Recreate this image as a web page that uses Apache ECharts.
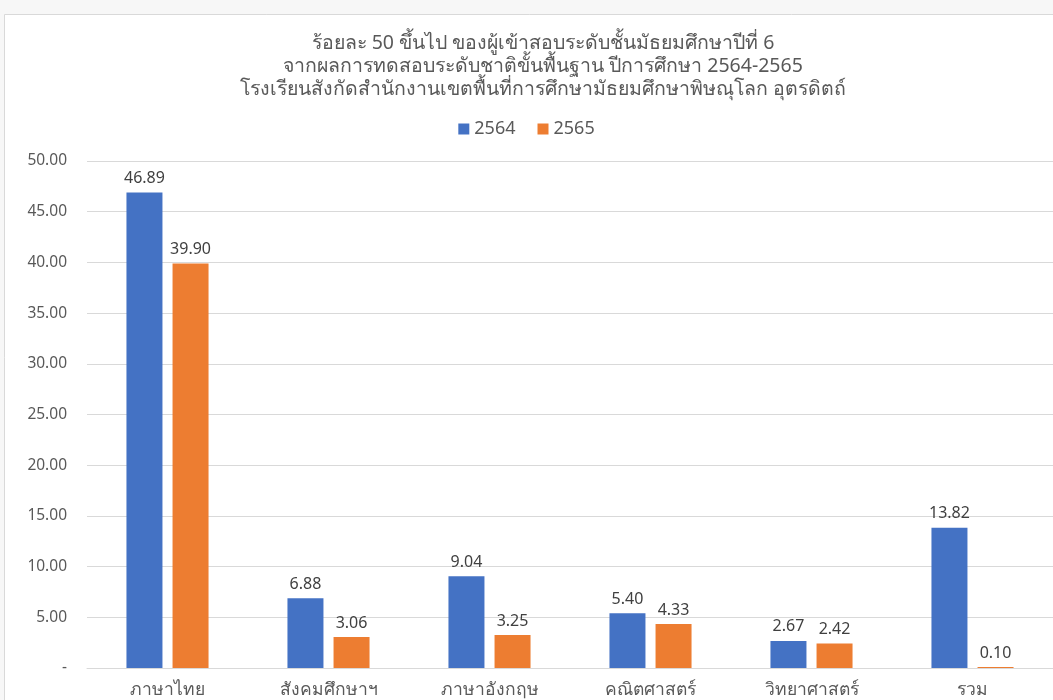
<!DOCTYPE html>
<html>
<head>
<meta charset="utf-8">
<script src="https://cdn.jsdelivr.net/npm/echarts@6/dist/echarts.min.js"></script>
<style>
  html, body { margin: 0; padding: 0; overflow: hidden; background: #f7f7f7; }
  #chart { width: 1053px; height: 700px; }
</style>
</head>
<body>
<div id="chart"></div>
<script>
const categories = ['ภาษาไทย', 'สังคมศึกษาฯ', 'ภาษาอังกฤษ', 'คณิตศาสตร์', 'วิทยาศาสตร์', 'รวม'];
const values2564 = [46.89, 6.88, 9.04, 5.40, 2.67, 13.82];
const values2565 = [39.90, 3.06, 3.25, 4.33, 2.42, 0.10];
const titleLines = [
  'ร้อยละ 50 ขึ้นไป ของผู้เข้าสอบระดับชั้นมัธยมศึกษาปีที่ 6',
  'จากผลการทดสอบระดับชาติขั้นพื้นฐาน ปีการศึกษา 2564-2565',
  'โรงเรียนสังกัดสำนักงานเขตพื้นที่การศึกษามัธยมศึกษาพิษณุโลก อุตรดิตถ์'
];

const font = '"Noto Sans", "Open Sans", sans-serif';
const chart = echarts.init(document.getElementById('chart'));

const labelStyle = {
  show: true,
  position: 'top',
  distance: 6,
  color: '#404040',
  fontSize: 16,
  fontFamily: font,
  formatter: (p) => p.value.toFixed(2),
};

chart.setOption({
  animation: false,
  backgroundColor: '#f7f7f7',
  graphic: [
    {
      type: 'rect',
      z: -10,
      shape: { x: 4.5, y: 14.5, width: 1100, height: 800 },
      style: { fill: '#ffffff', stroke: '#d9d9d9', lineWidth: 1 },
    },
  ],
  title: {
    text: titleLines.join('\n'),
    left: 538,
    top: 27,
    textAlign: 'center',
    textStyle: {
      color: '#595959',
      fontSize: 19.5,
      fontWeight: 'normal',
      fontFamily: font,
      lineHeight: 23,
    },
  },
  legend: {
    data: ['2564', '2565'],
    left: 'center',
    top: 115,
    itemWidth: 11,
    itemHeight: 11,
    itemGap: 22,
    icon: 'rect',
    textStyle: { color: '#595959', fontSize: 18, fontFamily: font },
  },
  grid: {
    left: 87,
    right: 0,
    top: 161,
    bottom: 32,
  },
  xAxis: {
    type: 'category',
    data: categories,
    axisTick: { show: false },
    axisLine: { lineStyle: { color: '#d9d9d9', width: 1 } },
    axisLabel: {
      color: '#595959',
      fontSize: 17.5,
      fontFamily: font,
      margin: 13,
    },
  },
  yAxis: {
    type: 'value',
    min: 0,
    max: 50,
    interval: 5,
    axisLine: { show: false },
    axisTick: { show: false },
    splitLine: { lineStyle: { color: '#d9d9d9', width: 1 } },
    axisLabel: {
      color: '#595959',
      fontSize: 15.5,
      fontFamily: font,
      margin: 20,
      formatter: (v) => (v === 0 ? '-' : v.toFixed(2)),
    },
  },
  series: [
    {
      name: '2564',
      type: 'bar',
      data: values2564,
      barWidth: 36,
      barGap: '28%',
      itemStyle: { color: '#4472c4' },
      label: labelStyle,
    },
    {
      name: '2565',
      type: 'bar',
      data: values2565,
      barWidth: 36,
      itemStyle: { color: '#ed7d31' },
      label: labelStyle,
    },
  ],
});
</script>
</body>
</html>
